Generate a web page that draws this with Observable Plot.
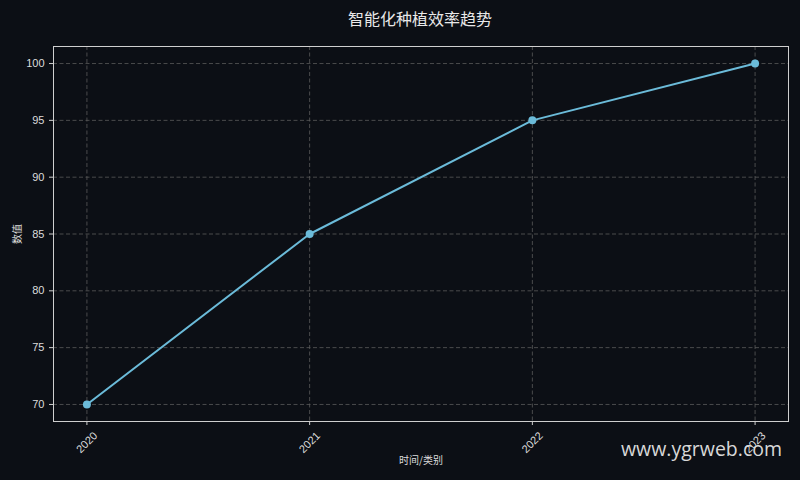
<!DOCTYPE html>
<html><head><meta charset="utf-8">
<script src="https://cdn.jsdelivr.net/npm/d3@7"></script>
<script src="https://cdn.jsdelivr.net/npm/@observablehq/plot@0.6"></script>
<style>
html,body{margin:0;padding:0;background:#0c0f15;}
#wrap{position:relative;width:800px;height:480px;background:#0c0f15;font-family:"Noto Sans CJK SC","DejaVu Sans",sans-serif;}
#title{height:36px;line-height:36px;padding-left:40px;text-align:center;color:#e8e8e8;font-size:16px;}
#wm{position:absolute;left:621px;top:435px;font-family:"Open Sans","DejaVu Sans",sans-serif;font-size:19.5px;color:#d8d8d8;}
</style></head>
<body><div id="wrap"><div id="title">智能化种植效率趋势</div><div id="chart"></div><div id="wm">www.ygrweb.com</div></div>
<script>
const years = [2020, 2021, 2022, 2023];
const values = [70, 85, 95, 100];
const yTicks = [70, 75, 80, 85, 90, 95, 100];
const data = years.map((y, i) => ({year: y, value: values[i]}));

const plot = Plot.plot({
  width: 800, height: 444,
  marginTop: 10, marginBottom: 59, marginLeft: 53, marginRight: 12,
  style: {background: "#0c0f15", color: "#dcdcdc", fontSize: "11px", fontFamily: "'Liberation Sans','DejaVu Sans',sans-serif"},
  x: {type: "linear", domain: [2019.85, 2023.15]},
  y: {domain: [68.5, 101.5]},
  marks: [
    Plot.gridX(years, {stroke: "#5a5a5a", strokeOpacity: 1, strokeDasharray: "4,2.5", strokeWidth: 0.8}),
    Plot.gridY(yTicks, {stroke: "#5a5a5a", strokeOpacity: 1, strokeDasharray: "4,2.5", strokeWidth: 0.8}),
    Plot.frame({stroke: "#cfcfcf", strokeOpacity: 1, strokeWidth: 1}),
    Plot.axisX(years, {tickFormat: () => "", tickSize: 4, stroke: "#cfcfcf",
      label: "时间/类别", labelAnchor: "center", labelArrow: "none", labelOffset: 42}),
    Plot.text(years, {x: d => d, frameAnchor: "bottom", dy: 21, text: d => String(d), rotate: -45,
      textAnchor: "middle", lineAnchor: "middle", fill: "#dcdcdc", fontSize: 11}),
    Plot.axisY(yTicks, {tickSize: 4, stroke: "#cfcfcf", fill: "#dcdcdc", fontSize: 11,
      label: "数值", labelAnchor: "center", labelArrow: "none", labelOffset: 40}),
    Plot.line(data, {x: "year", y: "value", stroke: "#6bbbd9", strokeWidth: 2}),
    Plot.dot(data, {x: "year", y: "value", fill: "#6bbbd9", r: 4})
  ]
});
plot.querySelectorAll("[aria-label='x-axis label'] text, [aria-label='y-axis label'] text").forEach(t => { t.style.fontFamily = "'Noto Sans CJK SC',sans-serif"; t.style.fontSize = "10px"; });
document.getElementById("chart").appendChild(plot);
</script></body></html>
